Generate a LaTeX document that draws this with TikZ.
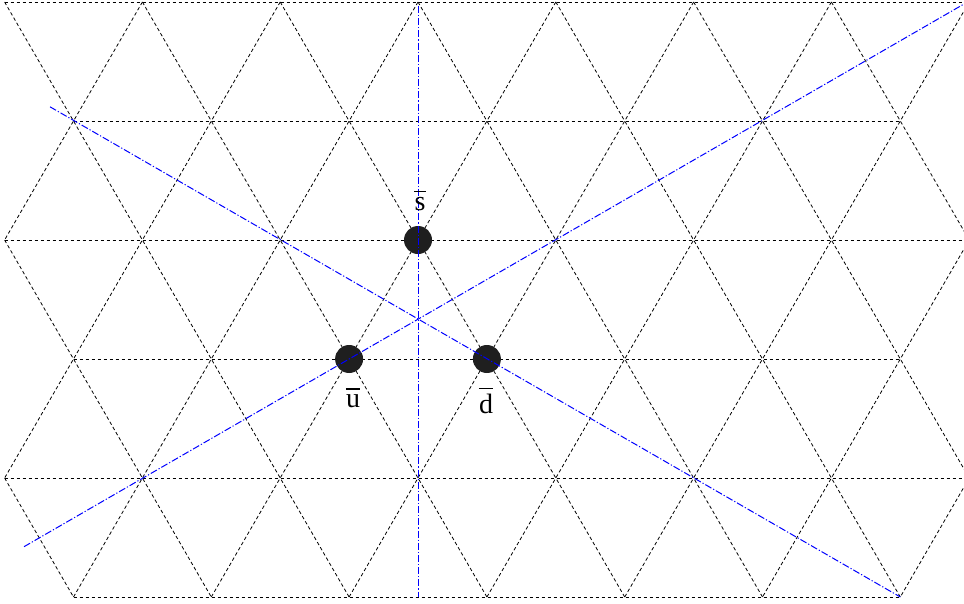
\documentclass[tikz,border=0pt]{standalone}
\usepackage{fontspec}
\setmainfont{Liberation Serif}
\begin{document}
\begin{tikzpicture}[x=1pt,y=-1pt,
  grid/.style={draw=black, line width=0.8pt, dash pattern=on 3.5pt off 2.5pt},
  axisline/.style={draw=blue, line width=1pt, dash pattern=on 7pt off 2pt on 1.2pt off 2pt},
  quark/.style={circle, fill=black!88, inner sep=0pt, minimum size=28pt},
  lbl/.style={font=\fontsize{28}{32}\selectfont, inner sep=0pt, anchor=base},
  barline/.style={draw=black, line width=1.2pt}]
\useasboundingbox (0,0) rectangle (964,603);
\def\a{137.8}
% lattice points
\foreach \r/\y in {0/2,2/240,4/478}
  \foreach \k in {0,...,7}
    \coordinate (p-\r-\k) at ({4.6+\k*\a},\y);
\foreach \r/\y in {1/121,3/359,5/597}
  \foreach \k in {0,...,6}
    \coordinate (p-\r-\k) at ({73.5+\k*\a},\y);
% horizontal lines
\foreach \r in {0,2,4} \draw[grid] (p-\r-0) -- (p-\r-7);
\foreach \r in {1,3,5} \draw[grid] (p-\r-0) -- (p-\r-6);
% down-right lines
\foreach \s/\e in {0-0/5-2,0-1/5-3,0-2/5-4,0-3/5-5,0-4/5-6,0-5/4-7,0-6/2-7,2-0/5-1,4-0/5-0}
  \draw[grid] (p-\s) -- (p-\e);
% down-left lines
\foreach \s/\e in {0-1/2-0,0-2/4-0,0-3/5-0,0-4/5-1,0-5/5-2,0-6/5-3,0-7/5-4,2-7/5-5,4-7/5-6}
  \draw[grid] (p-\s) -- (p-\e);
% quarks
\node[quark] (sbar) at (p-2-3) {};
\node[quark] (ubar) at (p-3-2) {};
\node[quark] (dbar) at (p-3-3) {};
% blue axes
\coordinate (vtop) at (418.3,6);
\coordinate (vbot) at (418.3,597);
\coordinate (aA) at (24,546.7);
\coordinate (aB) at (964,4);
\coordinate (bA) at (50,106.8);
\draw[axisline] (vtop) -- (vbot);
\draw[axisline] (aA) -- (aB);
\draw[axisline] (bA) -- (p-5-6);
% labels
\node[lbl] (slbl) at (420,210) {s};
\node[lbl] (ulbl) at (353,407) {u};
\node[lbl] (dlbl) at (486,413) {d};
\foreach \n in {slbl,ulbl,dlbl}
  \draw[barline] ([yshift=5pt]\n.north west) -- ([yshift=5pt]\n.north east);
\end{tikzpicture}
\end{document}
